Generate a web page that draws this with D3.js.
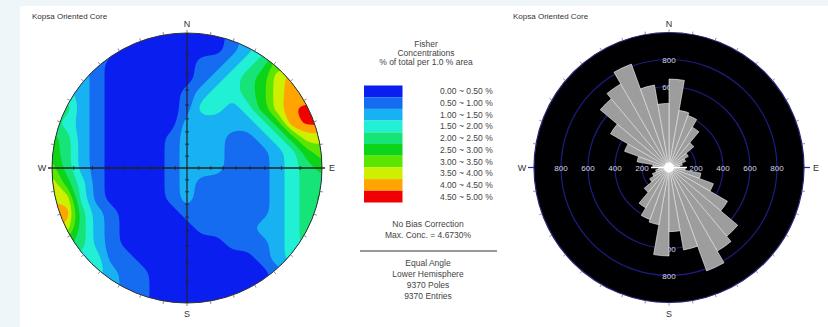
<!DOCTYPE html>
<html>
<head>
<meta charset="utf-8">
<script src="https://cdnjs.cloudflare.com/ajax/libs/d3/7.8.5/d3.min.js"></script>
<style>
  body { margin: 0; background: #eef6f9; }
  svg { display: block; font-family: Arial, "Liberation Sans", sans-serif; }
</style>
</head>
<body>
<svg id="chart" width="828" height="327"></svg>
<script>
// Fisher concentration classes (% of total per 1.0 % area)
const concThresholds = [0, 0.5, 1, 1.5, 2, 2.5, 3, 3.5, 4, 4.5];
const concColors = ['#0a1ef0', '#166cf0', '#18b2f2', '#22f0d4', '#16e478', '#0cd418', '#5ae600', '#cef000', '#ffa400', '#f00000'];
const legendLabels = ['0.00 ~ 0.50 %', '0.50 ~ 1.00 %', '1.00 ~ 1.50 %', '1.50 ~ 2.00 %', '2.00 ~ 2.50 %',
  '2.50 ~ 3.00 %', '3.00 ~ 3.50 %', '3.50 ~ 4.00 %', '4.00 ~ 4.50 %', '4.50 ~ 5.00 %'];
const legendTitle = ['Fisher', 'Concentrations', '% of total per 1.0 % area'];
const legendNotes = ['No Bias Correction', 'Max. Conc. = 4.6730%'];
const legendFooter = ['Equal Angle', 'Lower Hemisphere', '9370 Poles', '9370 Entries'];
const chartTitle = 'Kopsa Oriented Core';

const densityGrid = [
  [1.75, 1.25, 1.25, 0.75, 0.75, 0.25, 0.25, 0.25, 0.25, 0.25, 0.25, 0.25, 0.75, 1.25, 1.75, 2.25, 2.75, 3.25, 3.25],
  [1.75, 1.25, 1.25, 0.75, 0.75, 0.25, 0.25, 0.25, 0.25, 0.25, 0.25, 0.25, 0.75, 1.25, 1.75, 2.25, 2.75, 3.25, 3.25],
  [1.75, 1.25, 1.25, 0.75, 0.25, 0.25, 0.25, 0.25, 0.25, 0.25, 0.75, 0.75, 1.25, 1.75, 2.25, 3.25, 3.25, 3.25, 3.25],
  [1.75, 1.25, 1.25, 0.75, 0.25, 0.25, 0.25, 0.25, 0.25, 0.25, 0.75, 1.25, 1.75, 2.25, 2.75, 3.75, 4.25, 4.25, 4.25],
  [1.75, 1.75, 1.25, 0.75, 0.25, 0.25, 0.25, 0.25, 0.25, 0.75, 1.25, 1.75, 1.75, 2.25, 2.75, 3.75, 4.25, 4.0, 4.0],
  [2.25, 2.25, 1.25, 0.75, 0.25, 0.25, 0.25, 0.25, 0.25, 0.75, 1.75, 1.75, 1.25, 1.75, 2.75, 3.75, 4.45, 4.67, 4.67],
  [2.25, 1.75, 1.25, 0.75, 0.25, 0.25, 0.25, 0.25, 0.25, 1.25, 1.25, 1.25, 1.25, 1.25, 1.75, 2.75, 4.3, 4.6, 4.6],
  [2.75, 2.25, 1.25, 0.75, 0.25, 0.25, 0.25, 0.25, 0.75, 1.25, 1.25, 1.25, 0.75, 0.75, 1.25, 1.75, 2.75, 3.75, 3.75],
  [2.75, 2.25, 1.25, 0.75, 0.25, 0.25, 0.25, 0.25, 0.75, 1.25, 1.25, 1.25, 0.75, 0.75, 0.75, 1.25, 1.75, 2.75, 3.25],
  [3.25, 2.25, 1.25, 0.75, 0.25, 0.25, 0.25, 0.25, 0.75, 1.25, 1.25, 1.25, 0.75, 0.75, 0.75, 1.25, 1.75, 2.25, 2.75],
  [3.75, 2.75, 1.75, 0.75, 0.25, 0.25, 0.25, 0.25, 0.75, 1.25, 0.75, 0.75, 0.75, 0.75, 0.75, 1.25, 1.75, 2.25, 2.25],
  [3.9, 3.75, 1.75, 0.75, 0.25, 0.25, 0.25, 0.25, 0.75, 1.25, 0.75, 0.75, 0.75, 0.75, 0.75, 1.25, 1.75, 2.25, 2.75],
  [4.3, 4.25, 2.25, 1.25, 0.75, 0.25, 0.25, 0.25, 0.25, 0.75, 0.75, 0.75, 0.75, 0.75, 0.75, 1.25, 1.75, 2.25, 2.25],
  [4.25, 3.75, 2.25, 1.25, 0.75, 0.25, 0.25, 0.25, 0.25, 0.25, 0.75, 0.75, 0.75, 0.75, 1.25, 1.25, 1.75, 2.25, 2.25],
  [3.25, 2.75, 2.25, 1.25, 0.75, 0.25, 0.25, 0.25, 0.25, 0.25, 0.25, 0.25, 0.75, 0.75, 0.75, 1.25, 1.75, 2.25, 2.25],
  [2.75, 2.25, 1.75, 1.75, 0.75, 0.75, 0.25, 0.25, 0.25, 0.25, 0.25, 0.25, 0.25, 0.25, 0.75, 1.25, 1.75, 1.75, 1.75],
  [2.25, 2.25, 1.75, 1.75, 1.25, 0.75, 0.75, 0.25, 0.25, 0.25, 0.25, 0.25, 0.25, 0.25, 0.25, 0.75, 1.25, 1.75, 1.75],
  [1.75, 1.75, 1.75, 1.25, 1.25, 0.75, 0.75, 0.25, 0.25, 0.25, 0.25, 0.25, 0.25, 0.25, 0.25, 0.75, 1.25, 1.75, 1.75],
  [1.75, 1.75, 1.75, 1.25, 1.25, 0.75, 0.75, 0.25, 0.25, 0.25, 0.25, 0.25, 0.25, 0.25, 0.25, 0.75, 1.25, 1.75, 1.75]
];

// rose diagram: 10 degree bins over 0-180 (axial data, drawn both ways)
const roseBinStart = [0, 10, 20, 30, 40, 50, 60, 70, 80, 90, 100, 110, 120, 130, 140, 150, 160, 170];
const roseCounts = [655, 430, 410, 345, 240, 165, 130, 100, 80, 120, 240, 350, 500, 665, 715, 815, 620, 475];
const ringValues = [200, 400, 600, 800];
const dipTicks = [10, 20, 30, 40, 50, 60, 70, 80];

const svg = d3.select('#chart');
svg.append('rect')
  .attr('x', 20).attr('y', 6)
  .attr('width', 808).attr('height', 321)
  .attr('fill', '#ffffff');

/** Stereonet */
const st = { cx: 187, cy: 168, r: 135 };
const gx = d3.scaleLinear().domain([0.5, 18.5]).range([st.cx - st.r, st.cx + st.r]);
const gy = d3.scaleLinear().domain([0.5, 18.5]).range([st.cy - st.r, st.cy + st.r]);

svg.append('clipPath').attr('id', 'netClip')
  .append('circle').attr('cx', st.cx).attr('cy', st.cy).attr('r', st.r);

const contours = d3.contours()
  .size([19, 19])
  .thresholds(concThresholds)(densityGrid.flat());

// rounded rings instead of the raw marching squares polygons
const ringLine = d3.line().curve(d3.curveBasisClosed);
const contourPath = c => c.coordinates
  .map(poly => poly.map(ring => ringLine(ring.slice(0, -1).map(([x, y]) => [gx(x), gy(y)]))).join(''))
  .join('');

svg.append('g')
  .attr('clip-path', 'url(#netClip)')
  .selectAll('path')
  .data(contours)
  .join('path')
    .attr('d', contourPath)
    .attr('fill-rule', 'evenodd')
    .attr('fill', (d, i) => concColors[i]);

svg.append('circle')
  .attr('cx', st.cx).attr('cy', st.cy).attr('r', st.r)
  .attr('fill', 'none').attr('stroke', '#333').attr('stroke-width', 1);

const net = svg.append('g').attr('stroke', '#222');
net.append('line')
  .attr('x1', st.cx - st.r - 4).attr('x2', st.cx + st.r + 3)
  .attr('y1', st.cy).attr('y2', st.cy).attr('stroke-width', 1.4);
net.append('line')
  .attr('x1', st.cx).attr('x2', st.cx)
  .attr('y1', st.cy - st.r).attr('y2', st.cy + st.r).attr('stroke-width', 1.2);

// equal angle distance of each plunge tick
const eqAngle = p => st.r * Math.tan((90 - p) / 2 * Math.PI / 180);
dipTicks.forEach(p => {
  [-1, 1].forEach(s => {
    net.append('line')
      .attr('x1', st.cx + s * eqAngle(p)).attr('x2', st.cx + s * eqAngle(p))
      .attr('y1', st.cy - 2).attr('y2', st.cy + 2).attr('stroke-width', 0.8);
    net.append('line')
      .attr('y1', st.cy + s * eqAngle(p)).attr('y2', st.cy + s * eqAngle(p))
      .attr('x1', st.cx - 2).attr('x2', st.cx + 2).attr('stroke-width', 0.8);
  });
});

function outerTicks(g, c, color) {
  d3.range(0, 360, 10).forEach(a => {
    const t = a * Math.PI / 180;
    g.append('line')
      .attr('x1', c.cx + Math.sin(t) * c.r).attr('y1', c.cy - Math.cos(t) * c.r)
      .attr('x2', c.cx + Math.sin(t) * (c.r + 3)).attr('y2', c.cy - Math.cos(t) * (c.r + 3))
      .attr('stroke', color).attr('stroke-width', 0.8);
  });
}
outerTicks(svg.append('g'), st, '#666');

function compass(c, dx) {
  const g = svg.append('g').attr('font-size', 9).attr('fill', '#333').attr('text-anchor', 'middle');
  g.append('text').attr('x', c.cx).attr('y', c.cy - c.r - 6).text('N');
  g.append('text').attr('x', c.cx).attr('y', c.cy + c.r + 14).text('S');
  g.append('text').attr('x', c.cx - c.r - dx).attr('y', c.cy + 3).text('W');
  g.append('text').attr('x', c.cx + c.r + dx).attr('y', c.cy + 3).text('E');
}
compass(st, 10);

svg.append('text')
  .attr('x', 32).attr('y', 19)
  .attr('font-size', 8).attr('fill', '#333')
  .text(chartTitle);

/** Legend */
const lg = svg.append('g').attr('font-size', 8.5).attr('fill', '#444');
const legendY = d3.scaleBand().domain(legendLabels).range([85.5, 202.5]);

lg.selectAll('.ttl').data(legendTitle).join('text')
  .attr('class', 'ttl')
  .attr('x', 426).attr('y', (d, i) => 47 + i * 9)
  .attr('text-anchor', 'middle')
  .text(d => d);

lg.selectAll('rect').data(legendLabels).join('rect')
  .attr('x', 364).attr('width', 38.5)
  .attr('y', d => legendY(d)).attr('height', legendY.bandwidth())
  .attr('fill', (d, i) => concColors[i]);

lg.selectAll('.lbl').data(legendLabels).join('text')
  .attr('class', 'lbl')
  .attr('x', 440).attr('y', d => legendY(d) + legendY.bandwidth() / 2 + 3)
  .text(d => d);

lg.selectAll('.note').data(legendNotes).join('text')
  .attr('class', 'note')
  .attr('x', 428).attr('y', (d, i) => 227 + i * 11)
  .attr('text-anchor', 'middle')
  .text(d => d);

lg.append('line')
  .attr('x1', 360).attr('x2', 497).attr('y1', 251).attr('y2', 251)
  .attr('stroke', '#333').attr('stroke-width', 1);

lg.selectAll('.foot').data(legendFooter).join('text')
  .attr('class', 'foot')
  .attr('x', 428).attr('y', (d, i) => 265.5 + i * 11.2)
  .attr('text-anchor', 'middle')
  .text(d => d);

/** Rose diagram */
const ro = { cx: 669, cy: 167.5, r: 135 };
const rScale = d3.scaleLinear().domain([0, 1000]).range([0, ro.r]);
const rose = svg.append('g');

rose.append('circle')
  .attr('cx', ro.cx).attr('cy', ro.cy).attr('r', ro.r)
  .attr('fill', '#000002').attr('stroke', '#26267a').attr('stroke-width', 1.2);

rose.selectAll('.ring').data(ringValues).join('circle')
  .attr('class', 'ring')
  .attr('cx', ro.cx).attr('cy', ro.cy).attr('r', d => rScale(d))
  .attr('fill', 'none').attr('stroke', '#1d1d80').attr('stroke-width', 1.2);

const ringLbl = rose.append('g').attr('font-size', 8).attr('fill', '#d6d6e0').attr('text-anchor', 'middle');
ringValues.forEach(v => {
  ringLbl.append('text').attr('x', ro.cx - rScale(v)).attr('y', ro.cy + 3).text(v);
  ringLbl.append('text').attr('x', ro.cx + rScale(v)).attr('y', ro.cy + 3).text(v);
  ringLbl.append('text').attr('x', ro.cx).attr('y', ro.cy - rScale(v) + 3).text(v);
  ringLbl.append('text').attr('x', ro.cx).attr('y', ro.cy + rScale(v) + 3).text(v);
});

const arc = d3.arc().innerRadius(0);
const petals = roseBinStart.flatMap((b, i) => [
  { start: b, count: roseCounts[i] },
  { start: b + 180, count: roseCounts[i] }
]);
rose.append('g')
  .attr('transform', `translate(${ro.cx},${ro.cy})`)
  .selectAll('path')
  .data(petals)
  .join('path')
    .attr('d', d => arc({
      outerRadius: rScale(d.count),
      startAngle: d.start * Math.PI / 180,
      endAngle: (d.start + 10) * Math.PI / 180
    }))
    .attr('fill', '#9d9d9d')
    .attr('stroke', '#f2f2f2')
    .attr('stroke-width', 0.6);

rose.append('line')
  .attr('x1', ro.cx - 18).attr('x2', ro.cx + 18)
  .attr('y1', ro.cy).attr('y2', ro.cy)
  .attr('stroke', '#fff').attr('stroke-width', 1.5);
rose.append('circle')
  .attr('cx', ro.cx).attr('cy', ro.cy).attr('r', 5)
  .attr('fill', '#fff');

outerTicks(svg.append('g'), ro, '#777');
const axisW = svg.append('g').attr('stroke', '#2a2ab0').attr('stroke-width', 1.2);
axisW.append('line').attr('x1', ro.cx - ro.r - 6).attr('x2', ro.cx - ro.r).attr('y1', ro.cy).attr('y2', ro.cy);
axisW.append('line').attr('x1', ro.cx + ro.r).attr('x2', ro.cx + ro.r + 6).attr('y1', ro.cy).attr('y2', ro.cy);
compass(ro, 12);

svg.append('text')
  .attr('x', 513).attr('y', 19)
  .attr('font-size', 8).attr('fill', '#333')
  .text(chartTitle);
</script>
</body>
</html>
